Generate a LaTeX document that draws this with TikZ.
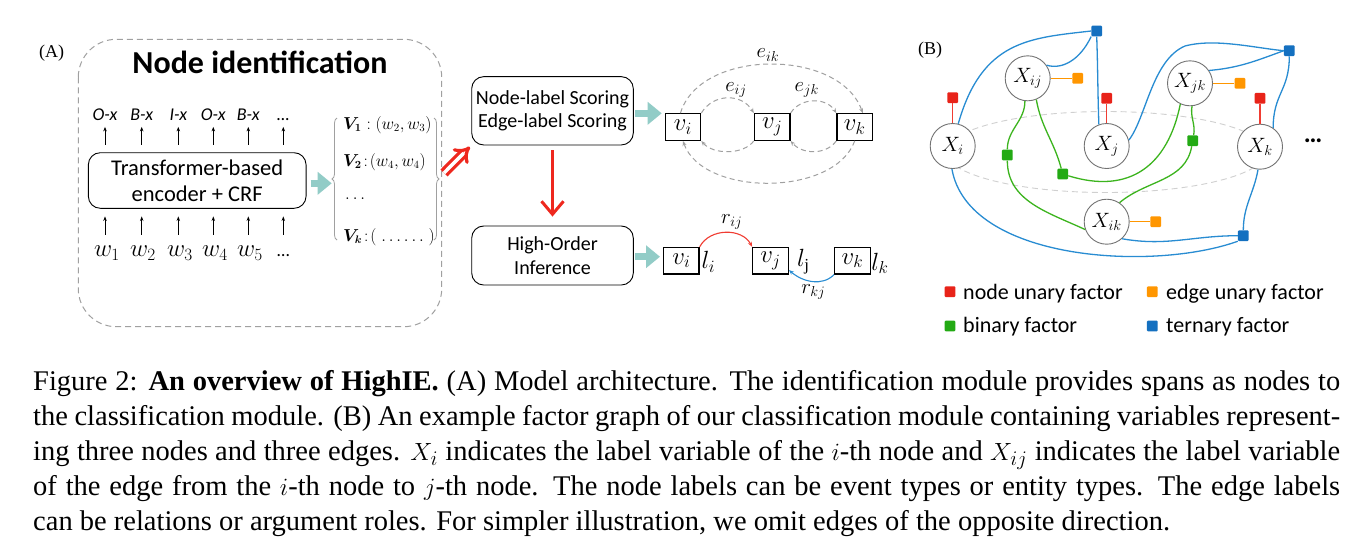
\documentclass[tikz,border=0pt]{standalone}
\usepackage{fontspec}
\setmainfont{Liberation Serif}
\newfontfamily\calibri{Carlito}
\usepackage{bm}
\usetikzlibrary{arrows.meta,decorations.pathreplacing}
\definecolor{tealc}{RGB}{146,204,199}
\definecolor{dgray}{RGB}{160,160,160}
\definecolor{lgray}{RGB}{208,208,208}
\definecolor{redc}{RGB}{232,35,25}
\definecolor{orangec}{RGB}{255,150,0}
\definecolor{greenc}{RGB}{35,170,20}
\definecolor{bluec}{RGB}{20,112,192}
\definecolor{circg}{RGB}{115,115,115}
\definecolor{redarr}{RGB}{238,40,30}
\definecolor{redline}{RGB}{240,60,50}
\definecolor{blueline}{RGB}{40,140,210}
\definecolor{greenline}{RGB}{60,180,30}
\tikzset{
  pbox/.style={draw, rounded corners=12, line width=0.9pt, align=center, inner sep=0,
    font=\calibri\fontsize{20}{23.3}\selectfont},
  vbox/.style={draw, line width=1.3pt, minimum width=35.5, minimum height=26.5, inner sep=0,
    font=\fontsize{26}{26}\selectfont},
  tealarrow/.style={line width=7pt, draw=tealc, -{Triangle[length=14pt,width=22pt]}},
  thinarrow/.style={line width=0.9pt, -{Stealth[length=4.5pt,width=3.5pt]}},
  tag/.style={anchor=base, inner sep=0, text depth=0pt, font=\calibri\itshape\fontsize{18}{18}\selectfont},
  wlab/.style={anchor=base, inner sep=0, text height=14pt, font=\fontsize{26}{26}\selectfont},
  vitem/.style={anchor=west, inner sep=0, font=\fontsize{16}{16}\selectfont},
  garc/.style={draw=dgray, line width=1pt, dash pattern=on 5pt off 3.5pt, -{Stealth[length=5pt,width=4pt]}},
  elab/.style={inner sep=0, font=\fontsize{22}{22}\selectfont},
  var/.style={circle, draw=circg, line width=0.9pt, fill=white, minimum size=45, inner sep=0,
    font=\fontsize{22}{22}\selectfont},
  fsq/.style={rectangle, minimum size=10.7, inner sep=0, fill=#1, rounded corners=1},
  rline/.style={draw=redline, line width=1.3pt},
  oline/.style={draw=orangec, line width=1.3pt},
  gline/.style={draw=greenline, line width=1.3pt},
  bline/.style={draw=blueline, line width=1.3pt},
  legt/.style={anchor=base west, inner sep=0, font=\calibri\fontsize{22}{22}\selectfont},
  capl/.style={anchor=base west, inner sep=0, font=\fontsize{28.5}{35}\selectfont},
  lbl/.style={inner sep=0, font=\fontsize{18}{18}\selectfont}
}
\begin{document}
\begin{tikzpicture}[x=1pt,y=-1pt]
\useasboundingbox (0,0) rectangle (1364,558);
\fill[white] (0,0) rectangle (1364,558);

% ---------------- Panel A ----------------
\node[lbl] (labA) at (51.7,53.3) {(A)};
\draw[dgray, line width=1pt, dash pattern=on 6pt off 4pt, rounded corners=38] (78.3,39.3) rectangle (441.7,326.7);
\node[anchor=base, inner sep=0, font=\calibri\bfseries\fontsize{32}{32}\selectfont] (title) at (260,73.3) {Node identification};

\node[draw, rounded corners=12, line width=0.9pt, minimum width=217.7, minimum height=55.6, align=center,
  inner sep=0, font=\calibri\fontsize{22.5}{26}\selectfont] (enc) at (197.2,180.5) {Transformer-based\\encoder + CRF};

\node[tag] (t1) at (105,120) {O-x};
\node[tag] (t2) at (141.7,120) {B-x};
\node[tag] (t3) at (178.3,120) {I-x};
\node[tag] (t4) at (213.3,120) {O-x};
\node[tag] (t5) at (248.3,120) {B-x};
\node[tag] (t6) at (283.3,120) {…};
\foreach \t in {t1,t2,t3,t4,t5,t6}
  \draw[thinarrow, shorten <=7.7pt, shorten >=6.7pt] (\t |- enc.north) -- (\t.south);

\node[wlab] (w1) at (107,256.7) {$w_1$};
\node[wlab] (w2) at (143,256.7) {$w_2$};
\node[wlab] (w3) at (180,256.7) {$w_3$};
\node[wlab] (w4) at (215,256.7) {$w_4$};
\node[wlab] (w5) at (250,256.7) {$w_5$};
\node[wlab, font=\calibri\fontsize{18}{18}\selectfont] (w6) at (283.3,256.7) {…};
\foreach \w/\t in {w1/t1,w2/t2,w3/t3,w4/t4,w5/t5,w6/t6}
  \draw[thinarrow, shorten <=7.7pt, shorten >=7.7pt] (\t |- w1.north) -- (\t |- enc.south);

\coordinate (brL) at (331.7,183.3);
\draw[tealarrow, shorten <=4pt] (enc.east |- brL) -- (brL);

\draw[dgray, line width=0.8pt, decorate, decoration={brace, amplitude=5pt}] (337,240) -- (337,118);
\draw[dgray, line width=0.8pt, decorate, decoration={brace, amplitude=5pt}] (434,118) -- (434,240);
\node[vitem] (V1) at (343,125) {$\bm{V_1}:(w_2, w_3)$};
\node[vitem] (V2) at (343,161.7) {$\bm{V_2}\!:\!(w_4, w_4)$};
\node[vitem] (Vd) at (345,198.3) {$\ldots$};
\node[vitem] (Vk) at (343,236.7) {$\bm{V_k}\!:\!(\;\ldots\ldots\;)$};

% ---------------- middle boxes ----------------
\node[pbox, minimum width=161.6, minimum height=68.3] (nl) at (552.5,110.8) {Node-label Scoring\\Edge-label Scoring};
\node[pbox, minimum width=161.6, minimum height=59] (ho) at (552.5,255.5) {High-Order\\Inference};

\coordinate (rs) at (444,173);
\draw[redarr, line width=3.2pt, double=white, double distance=3.5pt, -{Implies[length=12pt]}, shorten >=2pt] (rs) -- (nl.south west);
\draw[redarr, line width=3pt, shorten <=5pt, shorten >=9pt, -{Straight Barb[length=13pt,width=22pt]}] (nl.south) -- (ho.north);

% ---------------- top graph ----------------
\node[vbox] (vi) at (682.9,127) {$v_i$};
\node[vbox] (vj) at (772.2,127) {$v_j$};
\node[vbox] (vk) at (854.7,127) {$v_k$};
\coordinate (ta1) at (661.7,113.3);
\draw[tealarrow] ([xshift=1.5pt]nl.east |- ta1) -- (ta1);

\draw[garc] (vi.100) .. controls +(19.5,-65) and +(-23,-65) .. (vk.60);
\draw[garc] (vi.north east) .. controls +(12,-20) and +(-12,-20) .. (vj.north west);
\draw[garc] (vj.north east) .. controls +(10,-16) and +(-10,-16) .. (vk.north west);
\draw[garc] (vj.south west) .. controls +(-10,14) and +(12,14) .. (vi.south east);
\draw[garc] (vk.south west) .. controls +(-10,14) and +(12,14) .. (vj.south east);
\draw[garc] (vk.south) .. controls +(-20,56) and +(20,56) .. (vi.south);
\node[elab] (eik) at (768,55) {$e_{ik}$};
\node[elab] (eij) at (736,90) {$e_{ij}$};
\node[elab] (ejk) at (806.7,90) {$e_{jk}$};

% ---------------- bottom graph ----------------
\node[vbox] (vi2) at (681.3,260.7) {$v_i$};
\node[vbox] (vj2) at (770.5,260.7) {$v_j$};
\node[vbox] (vk2) at (852.5,260.7) {$v_k$};
\coordinate (ta2) at (660,256.7);
\draw[tealarrow] ([xshift=1.5pt]ho.east |- ta2) -- (ta2);
\node[elab, font=\fontsize{24}{24}\selectfont] (li) at (708.3,261.7) {$l_i$};
\node[elab, font=\fontsize{24}{24}\selectfont] (lj) at (803.3,261.7) {$l_{\mathrm{j}}$};
\node[elab, font=\fontsize{24}{24}\selectfont] (lk) at (880,263.3) {$l_k$};
\draw[redline, line width=1.1pt, -{Stealth[length=5pt,width=4pt]}] (vi2.north east) .. controls +(10,-19) and +(-10,-19) .. (vj2.north west);
\draw[blueline, line width=1.1pt, -{Stealth[length=5pt,width=4pt]}] (vk2.south west) .. controls +(-12,12) and +(14,12) .. (vj2.-27);
\node[elab] (rij) at (731.7,221.7) {$r_{ij}$};
\node[elab] (rkj) at (813.3,291.7) {$r_{kj}$};

% ---------------- Panel B ----------------
\node[lbl] (labB) at (930,50) {(B)};
\draw[lgray, line width=0.9pt, dash pattern=on 6pt off 4pt] (1106,152) ellipse [x radius=160, y radius=40.5];

\node[var] (Xi)  at (952.7,146)   {$X_i$};
\node[var] (Xij) at (1027.7,78.3) {$X_{ij}$};
\node[var] (Xj)  at (1106.7,146)  {$X_j$};
\node[var] (Xjk) at (1190,83.3)   {$X_{jk}$};
\node[var] (Xk)  at (1260,146.7)  {$X_k$};
\node[var] (Xik) at (1106.7,221.7) {$X_{ik}$};
\node[inner sep=0, font=\calibri\bfseries\fontsize{26}{26}\selectfont] (dots) at (1313,141) {…};

\node[fsq=redc] (nu1) at (952.7,97.7) {};
\node[fsq=redc] (nu2) at (1106.7,98.3) {};
\node[fsq=redc] (nu3) at (1260,98.3) {};
\node[fsq=orangec] (eu1) at (1077.7,78.3) {};
\node[fsq=orangec] (eu2) at (1240,83.3) {};
\node[fsq=orangec] (eu3) at (1155.7,221.7) {};
\node[fsq=greenc] (b1) at (1007.3,155) {};
\node[fsq=greenc] (b2) at (1062.7,174) {};
\node[fsq=greenc] (b3) at (1192.7,140.7) {};
\node[fsq=bluec] (q1) at (1096.7,31) {};
\node[fsq=bluec] (q2) at (1289.3,50.7) {};
\node[fsq=bluec] (q3) at (1243.3,235.7) {};

\draw[rline] (nu1) -- (Xi);
\draw[rline] (nu2) -- (Xj);
\draw[rline] (nu3) -- (Xk);
\draw[oline] (Xij) -- (eu1);
\draw[oline] (Xjk) -- (eu2);
\draw[oline] (Xik) -- (eu3);

\draw[gline] (Xij.-97) to[out=-90,in=90] (b1);
\draw[gline] (b1) to[out=-90,in=155] (Xik.200);
\draw[gline] (Xij.-68) to[out=-80,in=105] (b2);
\draw[gline] (b2) .. controls (1130,195) and (1168,165) .. (Xjk.-115);
\draw[gline] (Xjk.-85) to[out=-100,in=80] (b3);
\draw[gline] (b3) to[out=-100,in=40] (Xik.56);

\draw[bline] (Xi.76) .. controls (982,40) and (1030,38) .. (q1.west);
\draw[bline] (Xij.35) .. controls (1062,70) and (1080,60) .. (q1.south west);
\draw[bline] (Xj.110) to[out=92,in=-88] (q1.south);
\draw[bline] (Xj.15) .. controls (1146,118) and (1152,60) .. (1185,46) .. controls (1215,38) and (1255,48) .. (q2.west);
\draw[bline] (Xjk.34) to[out=5,in=-160] (q2.west);
\draw[bline] (q2.south) to[out=-90,in=90,looseness=1.2] (Xk.55);
\draw[bline] (Xi.-92) .. controls (968,261) and (1152.6,271.8) .. (q3.south west);
\draw[bline] (Xik.-48) to[out=-10,in=180] (q3.west);
\draw[bline] (Xk.-95) to[out=-100,in=90] (q3.north);

% legend
\node[fsq=redc] (lg1) at (950,291.7) {};
\node[legt] (lt1) at (963,299) {node unary factor};
\node[fsq=orangec] (lg2) at (1152.3,291.7) {};
\node[legt] (lt2) at (1166,299) {edge unary factor};
\node[fsq=greenc] (lg3) at (950,326) {};
\node[legt] (lt3) at (963,332.7) {binary factor};
\node[fsq=bluec] (lg4) at (1152.3,326) {};
\node[legt] (lt4) at (1166,332.7) {ternary factor};

% ---------------- caption ----------------
\node[capl] (c1) at (33,390) {\hbox to 1307pt{Figure 2: \textbf{An overview of HighIE.} (A) Model architecture. The identification module provides spans as nodes to}};
\node[capl] (c2) at (33,425) {\hbox to 1307pt{the classification module. (B) An example factor graph of our classification module containing variables represent-}};
\node[capl] (c3) at (33,460) {\hbox to 1307pt{ing three nodes and three edges. $X_i$ indicates the label variable of the $i$-th node and $X_{ij}$ indicates the label variable}};
\node[capl] (c4) at (33,495) {\hbox to 1307pt{of the edge from the $i$-th node to $j$-th node. The node labels can be event types or entity types. The edge labels}};
\node[capl] (c5) at (33,530) {can be relations or argument roles. For simpler illustration, we omit edges of the opposite direction.};
\end{tikzpicture}
\end{document}
